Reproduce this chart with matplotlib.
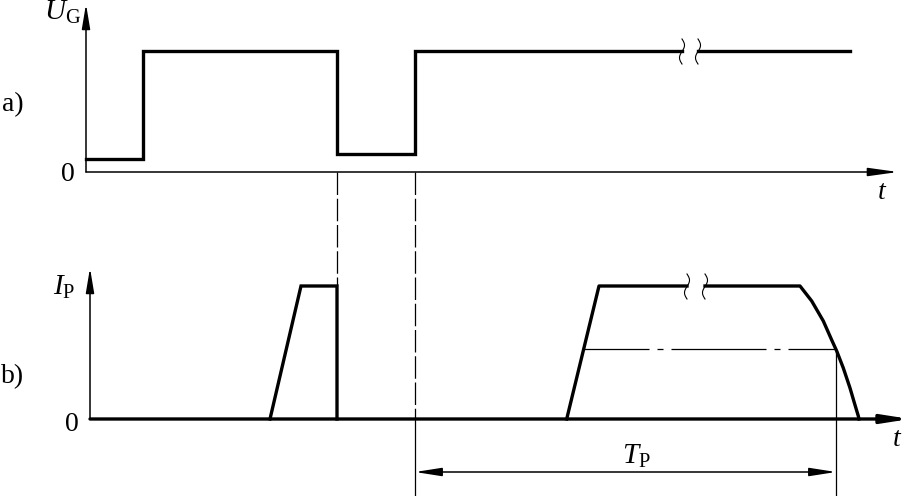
import numpy as np
import matplotlib
matplotlib.use("Agg")
import matplotlib.pyplot as plt

plt.rcParams['font.family'] = 'Liberation Serif'
plt.rcParams['mathtext.fontset'] = 'custom'
plt.rcParams['mathtext.rm'] = 'Liberation Serif'
plt.rcParams['mathtext.it'] = 'Liberation Serif:italic'

# a) gate voltage U_G (time, level above the zero line)
ug_t = [86, 143, 143, 337, 337, 415, 415, 682, 690, 698, 850]
ug_a = [13, 13, 121, 121, 18, 18, 121, 121, np.nan, 121, 121]

# b) current pulses I_P
ip1_t = [270, 301, 337, 337]
ip1_a = [0, 133, 133, 0]
ip2_t = [566.7, 599, 687, 696, 705, 800, 811.7, 823.3, 831.7, 836.7, 843.3, 850, 855, 858.3, 859]
ip2_a = [0, 133, 133, np.nan, 133, 133, 118, 98, 79, 68, 51, 31, 14, 3, 0]

# T_P level and end time
tp_start = 415
tp_end = 836
tp_level = 70
tp_rise = 584

# break marks (time)
breaks_a = [682, 698]
breaks_b = [687, 705]

base_a = 172
base_b = 419

fig = plt.figure(figsize=(9.15, 4.96), dpi=100)
ax = fig.add_axes([0, 0, 1, 1])
ax.set_xlim(0, 915)
ax.set_ylim(496, 0)
ax.axis('off')

thick = 2.4
thin = 1.1


def arrow(x0, y0, x1, y1, lw=thin, hl=1.8, style='-|>'):
    ax.annotate('', xy=(x1, y1), xytext=(x0, y0),
                arrowprops=dict(arrowstyle=f'{style},head_length={hl},head_width=0.25',
                                lw=lw, color='black', shrinkA=0, shrinkB=0,
                                mutation_scale=10))


def squiggle(x0, y0):
    s = np.linspace(0, 1, 40)
    ax.plot(x0 + 2.5 * np.sin(2 * np.pi * s), y0 - 12 + 25 * s, color='black', lw=0.8)


# axes of panel a
arrow(86, base_a, 898, base_a, lw=thin)
arrow(86, base_a, 86, 4, lw=thin, hl=1.5)
# axes of panel b
arrow(90, base_b, 910, base_b, lw=thick, hl=1.6)
arrow(90, base_b, 90, 268, lw=thin, hl=1.5)

# waveforms
ax.plot(ug_t, [base_a - a for a in ug_a], color='black', lw=thick, solid_joinstyle='miter')
ax.plot(ip1_t, [base_b - a for a in ip1_a], color='black', lw=thick, solid_joinstyle='miter')
ax.plot(ip2_t, [base_b - a for a in ip2_a], color='black', lw=thick, solid_joinstyle='round')

for x in breaks_a:
    squiggle(x, base_a - 121)
for x in breaks_b:
    squiggle(x, base_b - 133)

# projection lines
ax.plot([337, 337], [base_a, base_b - 133], color='black', lw=0.9, dashes=(18, 3))
ax.plot([415, 415], [base_a, base_b], color='black', lw=0.9, dashes=(18, 3))
ax.plot([415, 415], [base_b, 496], color='black', lw=0.9)
ax.plot([tp_end, tp_end], [base_b - tp_level, 496], color='black', lw=0.9)
ax.plot([tp_rise, tp_end], [base_b - tp_level] * 2, color='black', lw=0.9,
        linestyle=(24, (76, 6.4, 4.8, 6.4)))

# T_P dimension
arrow(tp_start, 472, tp_end, 472, lw=thin, hl=1.6, style='<|-|>')

fs = 20
ax.text(81, 20, r'$U_{\mathrm{G}}$', fontsize=21, ha='right', va='baseline')
ax.text(68, 181, '0', fontsize=fs, ha='center', va='baseline')
ax.text(13, 105, 'a)', fontsize=fs, ha='center', va='center')
ax.text(882, 199, r'$t$', fontsize=fs, ha='center', va='baseline')
ax.text(75, 295, r'$I_{\mathrm{P}}$', fontsize=21, ha='right', va='baseline')
ax.text(72, 431, '0', fontsize=fs, ha='center', va='baseline')
ax.text(13, 377, 'b)', fontsize=fs, ha='center', va='center')
ax.text(897, 446, r'$t$', fontsize=fs, ha='center', va='baseline')
ax.text(636, 464, r'$T_{\mathrm{P}}$', fontsize=21, ha='center', va='baseline')

fig.savefig('out.png', dpi=100)
